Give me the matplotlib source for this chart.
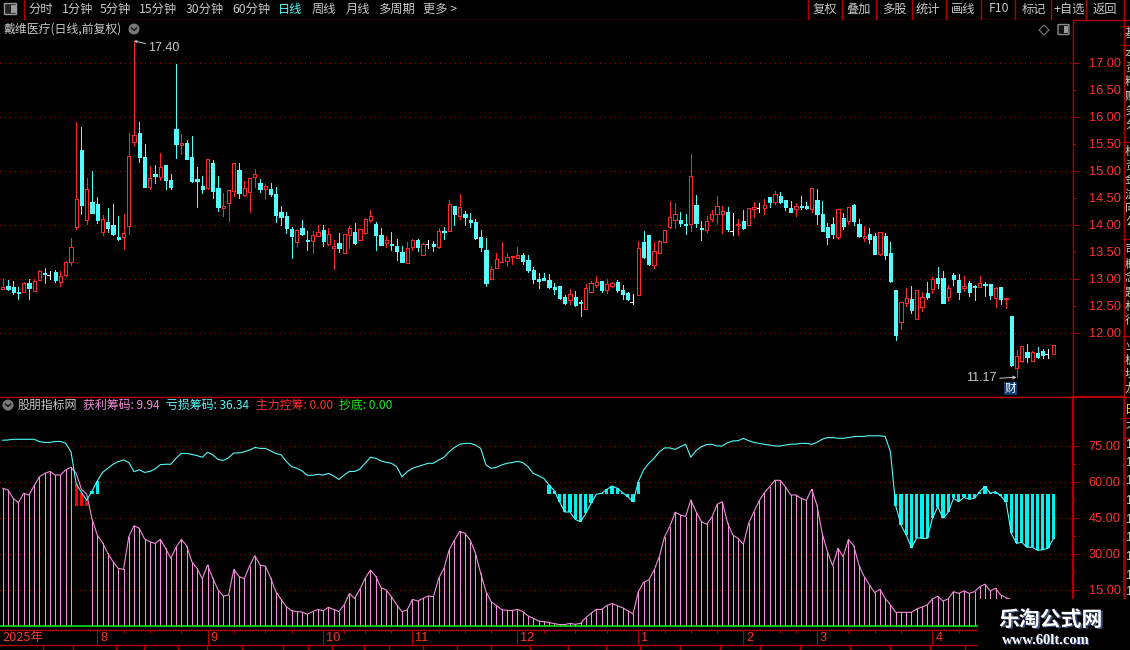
import matplotlib
matplotlib.use("Agg")
import matplotlib.pyplot as plt
import numpy as np
from matplotlib.patches import Rectangle, FancyBboxPatch, Circle, Polygon

plt.rcParams['font.family'] = ['Noto Sans CJK SC', 'DejaVu Sans']
plt.rcParams['axes.unicode_minus'] = False

# ---------- data ----------
open_ = [
12.81,12.86,12.84,12.75,12.75,12.91,12.77,12.98,13.11,13.07,
13.12,12.94,13.06,13.30,13.96,15.38,14.08,14.41,14.38,13.86,
14.04,13.99,13.77,13.77,13.98,15.53,15.69,15.25,14.70,14.93,
14.88,15.10,14.82,15.77,15.48,15.51,15.25,14.84,14.71,14.67,
15.14,14.67,14.31,14.39,14.62,15.01,14.54,14.61,14.88,14.77,
14.65,14.65,14.56,14.23,14.15,13.91,13.67,13.93,13.71,13.70,
13.79,13.90,13.64,13.56,13.65,13.48,13.81,13.86,13.72,13.84,
14.08,14.01,13.80,13.65,13.64,13.60,13.49,13.29,13.58,13.71,
13.43,13.64,13.64,13.58,13.88,13.88,14.34,14.15,14.19,14.08,
14.04,13.77,13.52,12.99,13.19,13.30,13.32,13.39,13.38,13.43,
13.34,13.15,12.99,13.01,12.97,12.84,12.86,12.65,12.60,12.65,
12.56,12.43,12.75,12.88,12.95,12.78,12.86,12.93,12.78,12.73,
12.57,12.69,13.67,13.80,13.25,13.47,13.67,13.95,14.08,14.08,
14.01,14.01,14.36,13.93,13.90,14.10,14.19,14.19,14.23,13.88,
13.99,14.06,13.99,14.28,14.30,14.30,14.51,14.41,14.52,14.45,
14.30,14.28,14.34,14.34,14.28,14.45,14.19,13.95,14.01,13.77,
14.12,14.06,14.36,14.01,13.75,13.82,13.78,13.45,13.78,13.47,
12.78,12.19,12.54,12.62,12.25,12.47,12.73,12.80,13.01,13.01,
12.65,13.06,12.97,12.82,12.91,12.86,12.84,12.90,12.90,12.64,
12.84,12.62,12.30,11.34,11.47,11.64,11.47,11.62,11.65,11.60,11.60]
close = [
12.84,12.81,12.75,12.74,12.91,12.83,12.96,13.14,13.09,13.07,
12.97,13.04,13.30,13.59,14.48,14.36,14.65,14.22,14.08,14.11,
13.94,13.83,13.73,13.85,15.26,15.65,15.25,14.70,14.87,14.90,
15.06,14.82,14.69,15.49,15.50,15.22,14.80,14.81,14.65,15.22,
14.62,14.33,14.35,14.63,15.13,14.59,14.67,14.87,14.94,14.66,
14.72,14.57,14.18,14.14,13.94,13.78,13.90,13.82,13.69,13.80,
13.87,13.69,13.83,13.61,13.56,13.82,13.93,13.65,13.91,14.10,
14.15,13.80,13.62,13.71,13.62,13.51,13.30,13.57,13.72,13.58,
13.64,13.64,13.60,13.88,13.86,14.38,14.19,14.32,14.14,14.04,
13.75,13.58,12.91,13.17,13.36,13.31,13.39,13.41,13.43,13.32,
13.15,12.99,12.96,12.97,12.84,12.80,12.64,12.54,12.71,12.51,
12.55,12.82,12.91,12.93,12.78,12.90,12.91,12.78,12.71,12.62,
12.57,13.56,13.40,13.27,13.51,13.69,13.90,14.14,14.19,14.02,
13.99,14.90,14.02,13.92,14.06,14.19,14.34,14.25,13.91,13.88,
14.01,13.93,14.30,14.32,14.30,14.36,14.41,14.56,14.41,14.32,
14.24,14.34,14.32,14.30,14.67,14.19,13.88,13.77,13.82,14.28,
13.97,14.32,14.06,13.78,13.78,13.73,13.45,13.86,13.43,12.95,
11.95,12.56,12.64,12.41,12.78,12.65,12.65,12.99,12.91,12.54,
12.82,12.99,12.75,12.86,12.75,12.84,12.91,12.88,12.69,12.82,
12.62,12.64,11.40,11.56,11.75,11.54,11.64,11.54,11.58,11.60,11.77]
high = [
13.00,12.98,12.95,12.85,12.93,12.99,12.99,13.15,13.20,13.14,
13.15,13.14,13.33,13.75,15.90,15.80,14.86,14.99,14.51,14.17,
14.30,14.38,14.15,14.19,15.69,17.40,15.90,15.49,15.08,15.10,
15.32,15.10,14.93,16.97,15.67,15.56,15.64,15.06,14.90,15.22,
15.19,14.90,14.58,14.63,15.13,15.13,14.80,14.87,15.02,14.85,
14.75,14.76,14.69,14.35,14.23,13.95,13.91,14.08,13.88,13.88,
13.99,13.99,13.93,13.71,13.84,13.82,13.97,14.02,13.92,14.12,
14.27,14.04,13.93,13.78,13.86,13.73,13.60,13.67,13.73,13.73,
13.65,13.71,13.69,13.93,13.95,14.45,14.34,14.56,14.25,14.21,
14.10,13.90,13.75,13.23,13.47,13.67,13.47,13.41,13.58,13.47,
13.43,13.21,13.10,13.10,13.08,12.91,12.86,12.69,12.80,12.77,
12.60,12.90,12.95,13.04,12.95,12.99,12.93,12.97,12.88,12.75,
12.71,13.69,13.88,13.80,13.67,13.71,13.90,14.43,14.40,14.23,
14.19,15.30,14.54,14.06,14.15,14.27,14.52,14.34,14.32,14.21,
14.10,14.27,14.30,14.41,14.40,14.47,14.51,14.62,14.60,14.45,
14.43,14.40,14.52,14.41,14.67,14.65,14.43,14.02,14.14,14.28,
14.21,14.32,14.38,14.10,13.97,13.93,13.84,13.86,13.84,13.67,
12.78,12.56,12.82,12.86,12.78,12.75,12.93,13.02,13.21,13.14,
12.88,13.10,13.08,13.04,12.95,12.88,13.04,12.93,12.90,12.84,
12.84,12.64,12.30,11.67,11.75,11.78,11.65,11.73,11.69,11.69,11.77]
low = [
12.81,12.78,12.72,12.62,12.75,12.62,12.77,12.97,12.92,13.00,
12.94,12.86,13.05,13.25,13.92,14.19,14.01,14.22,14.03,13.80,
13.86,13.80,13.71,13.55,13.83,15.45,15.16,14.70,14.66,14.77,
14.83,14.66,14.66,15.23,15.30,15.22,14.78,14.33,14.59,14.65,
14.49,14.25,14.16,14.07,14.53,14.49,14.53,14.23,14.69,14.60,
14.49,14.53,14.05,14.00,13.84,13.38,13.60,13.80,13.52,13.47,
13.79,13.60,13.62,13.17,13.49,13.47,13.56,13.64,13.72,13.82,
14.04,13.52,13.62,13.58,13.52,13.34,13.30,13.28,13.52,13.51,
13.43,13.56,13.51,13.56,13.73,13.88,14.00,14.10,13.99,13.95,
13.73,13.51,12.86,12.99,13.19,13.30,13.23,13.27,13.38,13.27,
13.12,12.91,12.82,12.97,12.82,12.71,12.62,12.52,12.52,12.49,
12.30,12.43,12.75,12.84,12.75,12.73,12.84,12.75,12.62,12.60,
12.52,12.69,13.38,13.25,13.19,13.47,13.67,13.93,13.93,13.97,
13.82,13.88,13.95,13.71,13.86,14.06,14.01,13.84,13.88,13.80,
13.80,13.91,13.99,14.14,14.23,14.19,14.32,14.38,14.40,14.27,
14.23,14.15,14.28,14.28,14.23,14.01,13.88,13.64,13.75,13.73,
13.91,14.01,13.99,13.77,13.69,13.65,13.45,13.43,13.36,12.93,
11.86,12.06,12.49,12.36,12.25,12.40,12.62,12.73,12.82,12.54,
12.58,12.88,12.62,12.77,12.67,12.60,12.84,12.67,12.62,12.47,
12.52,12.45,11.38,11.17,11.45,11.45,11.47,11.52,11.52,11.52,11.60]

profit = [
57.4,56.7,53.2,51.4,55.3,54.6,58.5,62.2,63.6,64.4,
62.9,62.9,65.1,66.1,63.6,56.9,54.9,44.6,37.9,34.7,
30.3,26.8,24.0,23.6,37.2,41.8,40.7,36.3,35.1,34.4,
36.1,32.4,28.2,32.8,36.1,33.5,26.8,24.0,19.7,25.4,
19.9,15.0,12.5,12.9,23.6,20.6,19.7,25.1,29.3,25.3,
25.0,20.1,14.3,11.1,8.0,6.4,6.0,5.8,4.9,6.0,
6.9,6.3,7.8,6.9,6.0,8.8,13.5,11.5,15.3,19.9,
23.3,20.8,16.0,15.0,12.2,8.8,6.0,6.7,11.1,10.4,
11.5,12.5,12.2,19.9,24.0,31.7,35.8,39.4,38.6,35.8,
30.3,21.9,14.3,10.1,8.5,6.8,6.5,6.5,6.9,6.0,
4.2,3.2,2.1,1.8,1.5,1.0,0.6,0.6,1.1,0.7,
1.1,3.5,5.3,6.9,6.9,8.5,9.4,8.5,7.6,6.4,
5.0,14.3,18.2,19.2,23.3,28.9,37.2,41.4,47.4,46.3,
45.6,52.5,47.6,43.5,42.4,45.3,50.7,51.8,42.8,37.9,
36.5,34.0,42.8,47.6,52.1,55.6,58.0,60.7,60.7,58.0,
54.6,54.6,53.2,52.4,57.0,50.4,38.6,31.0,25.1,32.4,
28.9,36.1,33.5,25.4,20.6,17.1,13.9,15.3,11.5,8.8,
5.7,5.7,5.7,5.7,7.1,7.9,8.8,11.3,12.4,10.4,
11.3,14.3,13.6,14.6,13.6,14.3,16.4,17.4,14.6,15.7,
12.9,11.8,11.0,10.6,10.4,10.3,10.2,10.1,10.0,9.97,9.94]
loss = [
77.4,77.5,77.8,77.8,77.8,77.8,77.8,76.8,76.5,76.5,
76.9,76.9,76.1,72.6,59.2,55.6,52.4,56.2,60.4,64.0,
65.7,67.4,68.5,69.2,68.1,64.3,65.1,64.0,64.4,65.4,
67.2,67.4,67.4,69.9,71.9,71.9,71.5,71.0,70.3,72.4,
71.3,69.4,69.0,70.1,72.1,72.1,72.6,73.3,74.4,74.0,
74.0,73.0,71.9,71.3,68.5,66.4,65.7,64.6,62.8,62.8,
63.2,62.9,63.6,62.5,61.1,62.9,64.4,64.4,65.4,67.8,
70.3,69.9,68.8,68.2,67.8,66.4,62.2,64.3,65.7,66.4,
67.1,67.8,67.8,69.2,70.3,72.6,74.4,75.7,76.1,76.1,
75.4,74.0,67.1,65.7,66.1,67.1,67.8,68.1,68.6,68.1,
66.4,63.6,62.6,61.5,58.8,56.4,51.8,47.5,47.5,44.4,
43.5,46.9,51.1,54.9,55.3,56.9,58.3,57.4,55.6,53.9,
51.8,60.1,65.0,67.8,69.9,72.6,74.2,74.2,73.6,74.7,
75.7,70.3,73.1,74.7,75.6,75.7,75.0,75.0,76.4,77.1,
77.2,78.2,77.2,76.5,76.1,75.7,75.4,75.0,75.0,75.4,
75.7,75.8,76.1,76.1,75.7,76.5,77.8,78.5,78.5,78.2,
78.2,78.5,78.9,79.0,79.0,79.3,79.2,79.3,78.9,72.6,
50.1,42.1,37.9,32.6,36.8,36.5,36.5,44.9,49.7,44.9,
47.4,53.2,51.8,53.6,52.8,53.2,56.0,58.2,55.3,56.0,
54.2,51.8,38.6,34.4,34.9,32.8,32.8,31.5,31.8,32.4,36.34]
chaodi = [0.0] * 201

red_bar_days = [14, 15, 16]
red_bar_base = 50
cyan_bar_days = [17, 18] + list(range(104, 122)) + list(range(170, 201))
cyan_bar_base = 55

month_days = [18, 39, 61, 78, 98, 121, 141, 155, 177]
month_labels = ['8', '9', '10', '11', '12', '1', '2', '3', '4']
week_days = [23, 28, 34, 44, 50, 55, 65, 69, 74, 83, 88, 93, 103, 109, 115,
             126, 131, 136, 148, 151, 161, 166, 171, 182]
price_major = [12, 13, 14, 15, 16, 17]
price_minor = [12.5, 13.5, 14.5, 15.5, 16.5]
ind_major = [15, 30, 45, 60, 75]
ind_minor = [7.5, 22.5, 37.5, 52.5, 67.5]

tool_left = ['分时', '1分钟', '5分钟', '15分钟', '30分钟', '60分钟', '日线', '周线', '月线', '多周期', '更多 >']
tool_right = ['复权', '叠加', '多股', '统计', '画线', 'F10', '标记', '+自选', '返回']

# ---------- style ----------
BG = '#000000'
FRAME = '#b00000'
GRID = '#b00000'
RED = '#ff3232'
CYAN = '#54fcfc'
PINK = '#f58fdc'
GREEN = '#00e600'
GREY = '#c8c8c8'
W, H = 1130, 650
PX = 0.72   # one pixel in points at dpi 100

fig = plt.figure(figsize=(W / 100, H / 100), dpi=100, facecolor=BG)

def axes_px(left, top, right, bottom, **kw):
    return fig.add_axes([left / W, 1 - bottom / H, (right - left) / W, (bottom - top) / H], **kw)

# pixel-based chrome layers
under = axes_px(0, 0, W, H, zorder=0)
under.set_xlim(0, W); under.set_ylim(H, 0); under.axis('off')
over = axes_px(0, 0, W, H, zorder=10)
over.set_xlim(0, W); over.set_ylim(H, 0); over.axis('off'); over.patch.set_alpha(0)

x0, dx, axr = 2.7, 5.253, 1072.5
xlim = (-x0 / dx, (axr - x0) / dx)

top = axes_px(0, 20, axr, 397, zorder=2)
bot = axes_px(0, 397, axr, 630, zorder=2)
for a in (top, bot):
    a.set_facecolor(BG)
    a.set_xlim(*xlim)
    for s in ('left', 'top'):
        a.spines[s].set_visible(False)
    a.yaxis.tick_right()
    a.tick_params(axis='both', which='both', colors=FRAME)
    a.grid(axis='y', which='major', color=GRID, lw=PX, linestyle=(0, (1, 5)), antialiased=False)
    a.set_axisbelow(True)

top.set_ylim(12 + (332.5 - 397) / 54, 12 + (332.5 - 20) / 54)
bot.set_ylim((626 - 630) / 2.4, (626 - 397) / 2.4)
top.spines['right'].set_color(FRAME); top.spines['right'].set_linewidth(1.0)
top.spines['bottom'].set_color(FRAME); top.spines['bottom'].set_linewidth(1.0)
bot.spines['right'].set_color(FRAME); bot.spines['right'].set_linewidth(1.6)
bot.spines['bottom'].set_color(FRAME); bot.spines['bottom'].set_linewidth(1.0)
bot.spines['top'].set_visible(True); bot.spines['top'].set_color(FRAME); bot.spines['top'].set_linewidth(1.0)

# y ticks
lab = dict(color=RED, fontsize=9.2, family=['Liberation Sans'])
top.set_yticks(price_major)
top.set_yticklabels([f'{v:.2f}' for v in price_major], **lab)
top.set_yticks(price_minor, minor=True)
top.set_yticklabels([f'{v:.2f}' for v in price_minor], minor=True, **lab)
top.tick_params(axis='y', which='major', length=6 * PX, width=PX, pad=10 * PX, labelcolor=RED)
top.tick_params(axis='y', which='minor', length=3 * PX, width=PX, pad=13 * PX, labelcolor=RED)
top.set_xticks([])
bot.set_yticks(ind_major)
bot.set_yticklabels([f'{v:.2f}' for v in ind_major], **lab)
bot.set_yticks(ind_minor, minor=True)
bot.tick_params(axis='y', which='major', length=6 * PX, width=PX, pad=10 * PX, labelcolor=RED)
bot.tick_params(axis='y', which='minor', length=3 * PX, width=PX)

# x ticks
bot.set_xticks(month_days)
bot.set_xticklabels([])
bot.set_xticks(week_days, minor=True)
bot.tick_params(axis='x', which='major', length=15 * PX, width=PX, color=FRAME)
bot.tick_params(axis='x', which='minor', length=3 * PX, width=PX, direction='out', color=FRAME)
for d, lb in zip(month_days, month_labels):
    bot.annotate(lb, xy=(d, 0), xycoords=('data', 'axes fraction'), xytext=(3, -8),
                 textcoords='offset pixels', color=RED, fontsize=9.2, ha='left', va='center',
                 family=['Liberation Sans'], annotation_clip=False)
bot.annotate('2025年', xy=(xlim[0], 0), xycoords=('data', 'axes fraction'), xytext=(2, -8),
             textcoords='offset pixels', color=RED, fontsize=9.2, ha='left', va='center',
             annotation_clip=False)

# ---------- candles ----------
idx = np.arange(len(close))
o, c, h, l = map(np.array, (open_, close, high, low))
up, down, flat = c > o, c < o, c == o
NOAA = dict(antialiased=False)
CR = '#ff2828'

top.vlines(idx[up], l[up], h[up], color=CR, lw=PX, zorder=2, **NOAA)
top.vlines(idx[down], l[down], h[down], color=CYAN, lw=PX, zorder=2, **NOAA)
top.vlines(idx[flat], l[flat], h[flat], color='white', lw=PX, zorder=2, **NOAA)
top.bar(idx[up], (c - o)[up], bottom=o[up], width=0.62, facecolor=BG, edgecolor=CR, lw=PX, zorder=3, **NOAA)
top.bar(idx[down], (c - o)[down], bottom=o[down], width=0.62, facecolor=CYAN, edgecolor=CYAN, lw=PX, zorder=3, **NOAA)
top.hlines(o[flat], idx[flat] - 0.5, idx[flat], color='white', lw=PX, zorder=3, **NOAA)

# price extremes
imax, imin = int(np.argmax(h)), int(np.argmin(l))
top.annotate(f'{h[imax]:.2f}', xy=(imax, h[imax]), xytext=(14, -7), textcoords='offset pixels',
             color=GREY, fontsize=9, family=['Liberation Sans'], va='center', ha='left',
             arrowprops=dict(arrowstyle='-|>', color=GREY, lw=PX, mutation_scale=3, shrinkA=0, shrinkB=0))
top.annotate(f'{l[imin]:.2f}', xy=(imin, l[imin]), xytext=(-50, -1), textcoords='offset pixels',
             color=GREY, fontsize=9, family=['Liberation Sans'], va='center', ha='left',
             arrowprops=dict(arrowstyle='->', color=GREY, lw=PX, mutation_scale=5, shrinkA=0, shrinkB=0,
                             relpos=(1, 0.5)))

# ---------- indicator ----------
ix = np.arange(len(profit))
pr, ls, cd = map(np.array, (profit, loss, chaodi))
bar_days = np.array([i for i in ix if i not in red_bar_days])
bot.vlines(bar_days, 0, pr[bar_days], color=PINK, lw=PX, zorder=2, **NOAA)
bot.plot(ix, pr, color=PINK, lw=PX * 1.1, zorder=3)
rd = np.array(red_bar_days)
bot.bar(rd, ls[rd] - red_bar_base, bottom=red_bar_base, width=0.6, color='#ff0000', lw=0, zorder=3, **NOAA)
cb = np.array(cyan_bar_days)
bot.bar(cb, ls[cb] - cyan_bar_base, bottom=cyan_bar_base, width=0.6, color='#00f0f0', lw=0, zorder=3, **NOAA)
bot.plot(ix, ls, color=CYAN, lw=PX * 1.1, zorder=4)
bot.plot(xlim, [cd[0], cd[-1]], color=GREEN, lw=PX * 1.6, zorder=5)

# ---------- chrome ----------
def txt(ax, x, y, s, color=GREY, size=8.8, ha='left', **kw):
    return ax.text(x, y, s, color=color, fontsize=size, ha=ha, va='center', **kw)

under.plot([0, 1123], [19.5, 19.5], color=FRAME, lw=1.0)
tool_x = [28, 62, 100, 139, 186, 232, 278, 312, 346, 378, 423]
for x, s in zip(tool_x, tool_left):
    txt(over, x, 9, s, color=CYAN if s == '日线' else GREY)
over.plot([23.5, 23.5], [0, 19], color=FRAME, lw=1.0)
over.add_patch(FancyBboxPatch((5, 4), 11, 10, boxstyle='round,pad=0.5', fc='#222222', ec='#999999', lw=1))
over.add_patch(Rectangle((10.5, 5), 5, 8, fc='#999999', ec='none'))
for x in [807.7, 841.7, 876.3, 911.7, 946, 981, 1015, 1051, 1086, 1123.5]:
    over.plot([x, x], [0, 19], color=FRAME, lw=1.0)
for x, s in zip([825, 859, 894, 928, 963, 999, 1034, 1069, 1105], tool_right):
    txt(over, x, 9, s, ha='center')

# title row
txt(over, 3, 29, '戴维医疗(日线,前复权)', color=GREY, size=8.6)
over.add_patch(Circle((134, 29), 5.5, fc='#777777', ec='none'))
over.plot([131.5, 134, 136.5], [28, 30.5, 28], color='#111111', lw=1)
over.add_patch(Polygon([(1044, 25), (1049, 30), (1044, 35), (1039, 30)], fc='none', ec='#777777', lw=0.8))
over.add_patch(FancyBboxPatch((1058.5, 25), 10, 9, boxstyle='round,pad=0.5', fc='#111111', ec='#888888', lw=1))
over.add_patch(Rectangle((1063.5, 26), 4.5, 7, fc='#999999', ec='none'))

# indicator legend
over.add_patch(Circle((8, 405), 5.5, fc='#777777', ec='none'))
over.plot([5.5, 8, 10.5], [404, 406.5, 404], color='#111111', lw=1)
txt(over, 18, 405, '股朋指标网', color=GREY, size=8.6)
txt(over, 83, 405, f'获利筹码: {pr[-1]:.2f}', color=PINK, size=8.6)
txt(over, 166, 405, f'亏损筹码: {ls[-1]:.2f}', color=CYAN, size=8.6)
txt(over, 256, 405, '主力控筹: 0.00', color=RED, size=8.6)
txt(over, 339, 405, f'抄底: {cd[-1]:.2f}', color='#22ee22', size=8.6)

# 财 badge
over.add_patch(Rectangle((1004, 382), 13, 13, fc='#0b3c6f', ec='none'))
txt(over, 1010.5, 388.5, '财', color='white', size=8.4, ha='center')

# right panel strip
over.plot([1123.5, 1123.5], [0, 397], color=FRAME, lw=1.0)
over.plot([1123.5, 1123.5], [397, 599], color=FRAME, lw=1.8)
over.plot([1072, 1123], [397, 397], color=FRAME, lw=1.6)
over.plot([1123, 1130], [397, 397], color=FRAME, lw=1.0)
for y in (19.5, 26, 45, 142, 239, 336, 418, 438):
    over.plot([1123, 1130], [y, y], color=FRAME, lw=1.0)
for y, s in zip([34, 54, 68, 82, 96, 110, 124, 152, 166, 180, 194, 208, 222,
                 250, 264, 278, 292, 306, 320, 346, 360, 374, 388],
                '基本资料财务分析资金流向公司概念题材行业板块龙虎榜数据'):
    txt(over, 1125, y, s, color='#d0d0d0', size=8.4)
txt(over, 1125, 410, '日', color='#e8e800', size=8.4)
txt(over, 1125, 428, '不', color='#d0d0d0', size=8.4)
for y in [445, 463, 481, 501, 520, 538, 557, 576, 592]:
    txt(over, 1125, y, '1', color='#d0d0d0', size=9, family=['Liberation Sans'])

# bottom row
over.plot([0, 978], [645, 645], color=FRAME, lw=1.0)
for x in [43, 73, 116, 144, 178, 207, 242, 283, 308, 332, 364, 389, 423, 457, 491, 530,
          568, 606, 640, 680, 720, 760, 800, 850, 890, 930, 965]:
    over.plot([x, x], [645, 650], color=FRAME, lw=1.0)

# ---------- watermark ----------
over.add_patch(Rectangle((978, 598.5), 152, 52, fc='black', ec='none', zorder=20))
for off, col, zo in ((1.2, '#3a4a7a', 21), (0, 'white', 22)):
    over.text(1051 + off, 619 + off, '乐淘公式网', color=col, fontsize=15, fontweight='bold',
              ha='center', va='center', zorder=zo)
    over.text(1046 + off, 640 + off, 'www.60lt.com', color=col, fontsize=10.5, fontweight='bold',
              ha='center', va='center', family=['Liberation Serif'], zorder=zo)

fig.savefig('out.png', dpi=100, facecolor=BG)
